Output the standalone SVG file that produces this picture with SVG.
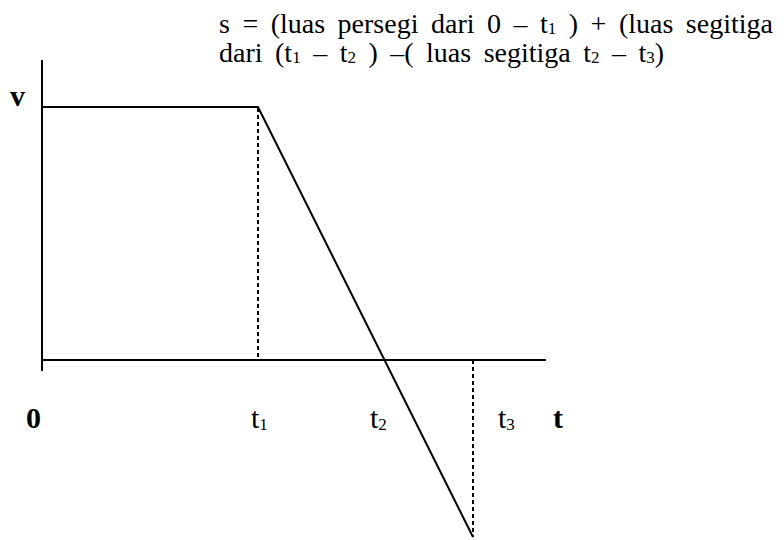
<svg xmlns="http://www.w3.org/2000/svg" width="784" height="540" viewBox="0 0 784 540">
<style>
  .txt { font-family: "Liberation Serif", "Times New Roman", serif; font-size: 28px; word-spacing: 5.5px; fill: #000; }
  .lbl { font-family: "Liberation Serif", "Times New Roman", serif; font-size: 30px; fill: #000; }
  .b { font-weight: bold; }
  .sub { font-size: 17px; }
  .solid { stroke: #000; stroke-width: 2; fill: none; }
  .dash { stroke: #000; stroke-width: 2; stroke-dasharray: 4 3; fill: none; }
</style>
<rect width="784" height="540" fill="#fff"/>
<g id="formula">
  <text class="txt" x="219" y="33">s = (luas persegi dari 0 – t<tspan class="sub" dy="1">1</tspan><tspan dy="-1"> ) + (luas segitiga</tspan></text>
  <text class="txt" x="219" y="62">dari (t<tspan class="sub" dy="1">1</tspan><tspan dy="-1"> – t</tspan><tspan class="sub" dy="1">2</tspan><tspan dy="-1"> ) –( luas segitiga t</tspan><tspan class="sub" dy="1">2</tspan><tspan dy="-1"> – t</tspan><tspan class="sub" dy="1">3</tspan><tspan dy="-1">)</tspan></text>
</g>
<g id="axes">
  <line class="solid" x1="42" y1="60" x2="42" y2="371"/>
  <line class="solid" x1="42" y1="360" x2="546" y2="360"/>
</g>
<g id="graph">
  <polyline class="solid" points="42,107 258,107 473,537"/>
  <line class="dash" x1="258" y1="108" x2="258" y2="360"/>
  <line class="dash" x1="473" y1="360" x2="473" y2="537"/>
</g>
<g id="labels">
  <text class="lbl b" x="10" y="106">v</text>
  <text class="lbl b" x="26" y="428">0</text>
  <text class="lbl" x="251" y="428">t<tspan class="sub" dy="2">1</tspan></text>
  <text class="lbl" x="370" y="428">t<tspan class="sub" dy="2">2</tspan></text>
  <text class="lbl" x="498" y="428">t<tspan class="sub" dy="2">3</tspan></text>
  <text class="lbl b" x="553" y="428">t</text>
</g>
</svg>
